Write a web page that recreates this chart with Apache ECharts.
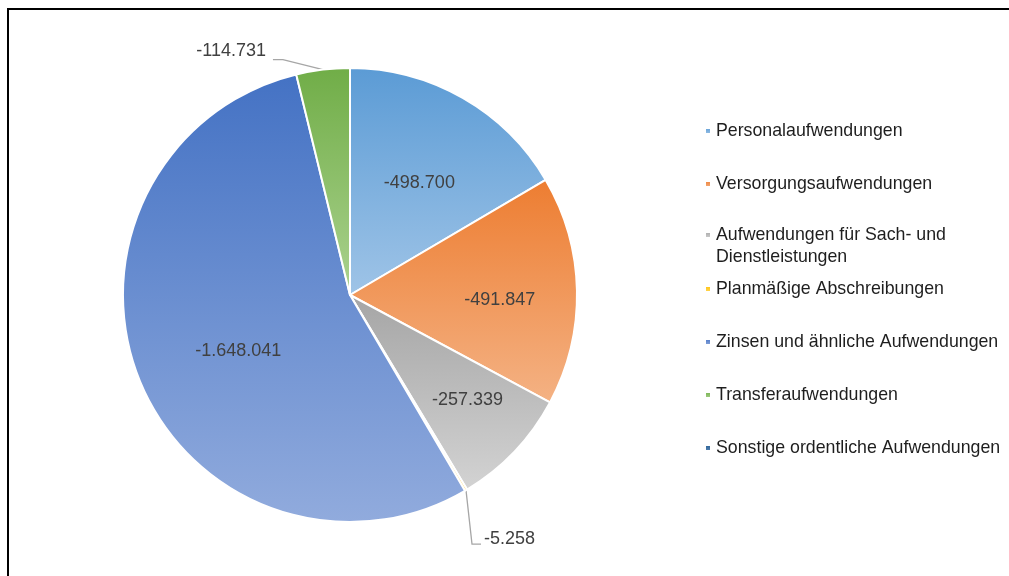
<!DOCTYPE html>
<html>
<head>
<meta charset="utf-8">
<script src="https://cdn.jsdelivr.net/npm/echarts@6/dist/echarts.min.js"></script>
<style>
  html, body { margin: 0; padding: 0; background: #fff; }
  #main { width: 1009px; height: 576px; }
</style>
</head>
<body>
<div id="main"></div>
<script>
// Aufwandsarten und Werte (negativ = Aufwand)
var categories = [
  "Personalaufwendungen",
  "Versorgungsaufwendungen",
  "Aufwendungen für Sach- und Dienstleistungen",
  "Planmäßige Abschreibungen",
  "Zinsen und ähnliche Aufwendungen",
  "Transferaufwendungen",
  "Sonstige ordentliche Aufwendungen"
];
var values = [-498700, -491847, -257339, -5258, -1648041, -114731, 0];

// Farben: oben kräftig, unten heller (Verlauf wie im Original)
var topColors = ["#5b9bd5", "#ed7d31", "#a5a5a5", "#ffc000", "#4472c4", "#70ad47", "#255e91"];
var bottomColors = ["#9fc4e7", "#f4b284", "#d3d3d3", "#ffd966", "#91abdd", "#abd28f", "#5b86b6"];

// Layout der Beschriftungen
var pieCenter = [350, 295];
var pieRadius = 227;
var labelRadius = [0.58, 0.66, 0.69, null, 0.545, null, null]; // Anteil vom Radius, innen
var labelShift = [[4, 2], [0, 8], [4, -3], null, [3, 10], null, null];
var outsideItems = [3, 5];

function fmt(n) {
  var s = String(Math.abs(n)).replace(/\B(?=(\d{3})+(?!\d))/g, ".");
  return (n < 0 ? "-" : "") + s;
}

var pieData = categories.map(function (name, i) {
  var item = {
    name: name,
    value: Math.abs(values[i]),
    itemStyle: {
      color: {
        type: "linear", x: 0, y: 0, x2: 0, y2: 1,
        colorStops: [
          { offset: 0, color: topColors[i] },
          { offset: 1, color: bottomColors[i] }
        ]
      }
    }
  };
  if (outsideItems.indexOf(i) >= 0) {
    item.label = { position: "outside" };
    item.labelLine = { show: true, length: 20, length2: 10 };
  }
  if (values[i] === 0) {
    item.label = { show: false };
    item.labelLine = { show: false };
  }
  return item;
});

var legendText = {
  fontSize: 17.75,
  color: "#1e1e1e",
  fontFamily: "Liberation Sans, Arial, sans-serif",
  lineHeight: 22
};

function legendBlock(top, names, formatter) {
  var l = {
    orient: "vertical",
    left: 699,
    top: top,
    itemWidth: 6,
    itemHeight: 6,
    itemGap: 31,
    icon: "rect",
    textStyle: legendText,
    data: names
  };
  if (formatter) l.formatter = formatter;
  return l;
}

var myChart = echarts.init(document.getElementById("main"));
myChart.setOption({
  animation: false,
  //Rahmen oben/links
  graphic: [{
    type: "rect",
    silent: true,
    shape: { x: 8, y: 9, width: 1100, height: 700 },
    style: { fill: "none", stroke: "#000", lineWidth: 2 }
  }],
  legend: [
    legendBlock(115, categories.slice(0, 2)),
    //leere erste Zeile, damit das Symbol auf Höhe der ersten Textzeile sitzt
    legendBlock(197, categories.slice(2, 3), function (name) {
      return "\n" + name.replace("Sach- und ", "Sach- und\n");
    }),
    legendBlock(273, categories.slice(3))
  ],
  series: [
    {
      name: "Aufwendungen",
      type: "pie",
      center: pieCenter,
      radius: pieRadius,
      startAngle: 90,
      clockwise: true,
      avoidLabelOverlap: false,
      itemStyle: {
        borderColor: "#fff",
        borderWidth: 2
      },
      label: {
        show: true,
        position: "inside",
        color: "#404040",
        fontSize: 18,
        fontFamily: "Liberation Sans, Arial, sans-serif",
        formatter: function (p) {
          return fmt(values[p.dataIndex]);
        }
      },
      labelLine: {
        show: false,
        lineStyle: { color: "#a6a6a6", width: 1.3 }
      },
      labelLayout: function (p) {
        var i = p.dataIndex;
        var lr = p.labelRect;
        if (labelRadius[i]) {
          var mx = lr.x + lr.width / 2 - pieCenter[0];
          var my = lr.y + lr.height / 2 - pieCenter[1];
          var d = Math.sqrt(mx * mx + my * my) || 1;
          var rr = labelRadius[i] * pieRadius;
          return {
            x: pieCenter[0] + mx / d * rr + labelShift[i][0],
            y: pieCenter[1] + my / d * rr + labelShift[i][1],
            align: "center",
            verticalAlign: "middle"
          };
        }
        var pts = p.labelLinePoints;
        if (!pts || !pts.length) return {};
        var p0 = pts[0];
        if (i === 5) {
          // Transferaufwendungen: Linie nach links oben
          return {
            x: p0[0] - 57,
            y: p0[1] - 19,
            align: "right",
            verticalAlign: "middle",
            labelLinePoints: [p0, [p0[0] - 40, p0[1] - 10], [p0[0] - 50, p0[1] - 10]]
          };
        }
        if (i === 3) {
          // Planmäßige Abschreibungen: Linie nach unten
          return {
            x: p0[0] + 18,
            y: p0[1] + 49,
            align: "left",
            verticalAlign: "middle",
            labelLinePoints: [p0, [p0[0] + 6, p0[1] + 54], [p0[0] + 15, p0[1] + 54]]
          };
        }
        return {};
      },
      data: pieData
    }
  ]
});
</script>
</body>
</html>
